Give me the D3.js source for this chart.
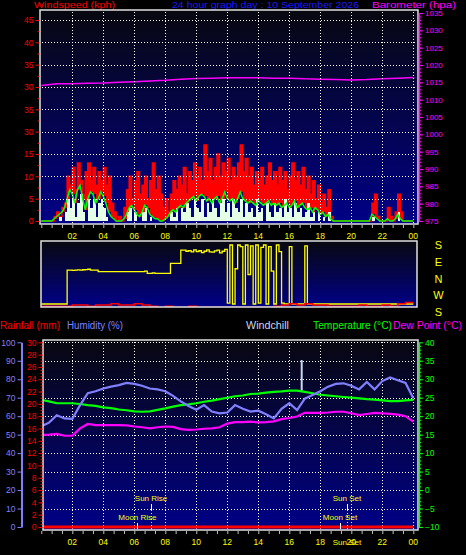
<!DOCTYPE html>
<html><head><meta charset="utf-8">
<script src="https://cdnjs.cloudflare.com/ajax/libs/d3/7.8.5/d3.min.js"></script>
<style>
html,body{margin:0;padding:0;background:#000;}
svg{display:block;}
</style></head>
<body>
<svg id="chart" width="466" height="555"></svg>
<script>
// ---------------- DATA ----------------
const hourTicks  = [2,4,6,8,10,12,14,16,18,20,22,24];
const hourLabels = ["02","04","06","08","10","12","14","16","18","20","22","00"];

const windTickValues = [0,5,10,15,20,25,30,35,40,45];
const windTickLabels = ["0","5","10","15","30","35","30","35","40","45"];
const baroTickValues = [975,980,985,990,995,1000,1005,1010,1015,1020,1025,1030,1035];

// wind, 10-minute samples (kph)
const windGust = [
 0,0,0,0,0,1,  2,1,3,4,10,8,  12,7,13,9,6,11,  13,9,12,8,11,9,
 12,8,10,4,2,0,  1,0,3,7,10,5,  9,11,6,8,10,5,  9,13,7,10,6,3,
 5,2,6,9,7,10,  8,12,6,11,9,13,  10,12,9,17,11,14,  9,12,15,10,13,11,
 14,9,12,10,13,17,  11,14,10,12,8,11,  9,12,8,10,13,9,  11,8,12,9,11,7,
 10,13,9,11,8,12,  7,10,6,9,5,8,  4,6,3,7,1,0,  0,0,0,0,0,0,
 0,0,0,0,0,0,  0,0,4,6,1,0,  0,0,3,1,0,2,  6,2,0,0,0,0];
const windSpeed = [
 0,0,0,0,0,0,  0,1,0,2,5,3,  5,1,4,6,2,0,  5,3,5,1,4,5,
 3,1,0,0,0,0,  0,0,0,2,3,0,  2,0,0,2,3,0,  1,0,0,0,0,0,
 0,0,2,1,3,0,  3,2,4,3,1,5,  3,2,5,1,4,2,  5,3,1,4,5,2,
 4,1,5,3,2,5,  1,4,2,3,1,5,  2,3,0,4,2,1,  4,2,3,1,5,2,
 3,1,4,2,3,1,  2,4,1,2,0,2,  0,1,0,2,0,0,  0,0,0,0,0,0,
 0,0,0,0,0,0,  0,0,1,0,0,0,  0,0,0,0,0,0,  2,0,0,0,0,0];
const windAvg = [
 0,0,0,0,0,0.5,  1,1.5,2,3,5,7,  6,4,7,8,5,2.5,  5,6.5,6,4,5,6.5,
 5.5,4,2,1,0.5,0,  0,0,0.5,1.5,3,3.5,  2.5,1.5,1,2,3.5,3,  1.5,1,0.5,0.5,0,0,
 0.5,1,2,2.5,2,3,  3.5,3,4,4.5,5,5.5,  4.5,5.5,6,5.5,4.5,5,  4,5,5.5,4,5,6.5,
 5,4.5,5,4,5,6.5,  5,4.5,4,4.5,4,3.5,  4.5,4,3.5,4,4.5,3.5,  4,3.5,4,3,3.5,4,
 3,3.5,4.5,3,3.5,4,  3,2.5,3,2,3,2.5,  1.5,2,1,1.5,0.5,0,  0,0,0,0,0,0,
 0,0,0,0,0,0,  0,0,1.5,1,0.5,0,  0,0,0.5,0,0,0.5,  1.5,0.5,0,0,0,0];

// barometer, hourly (hPa)
const barometer = [1014.1,1014.6,1014.6,1014.7,1014.8,1015.0,1015.2,1015.4,1015.6,1015.9,
 1016.1,1016.2,1016.3,1016.3,1016.3,1016.2,1016.2,1016.0,1015.9,1015.8,1015.7,1015.8,1016.0,1016.2,1016.4];

// wind direction, 10-minute samples (degrees)
const windDir = [
 0,0,0,0,0,0,  0,0,0,0,207,207,  205,207,208,207,209,210,  212,207,207,207,197,197,
 197,197,197,197,197,197,  197,197,197,197,197,197,  197,197,197,197,200,187,  187,190,187,187,187,187,
 187,187,248,248,248,248,  329,329,322,326,318,330,  320,325,313,322,330,318,  316,324,329,312,322,333,
 5,360,0,215,360,350,  0,360,180,355,0,360,  5,345,360,0,350,200,  0,360,320,5,0,0,
 350,0,0,0,0,0,  355,0,0,0,0,0,  0,0,0,0,0,0,  0,0,0,0,0,0,
 0,0,0,0,0,0,  0,0,0,0,0,0,  0,0,0,0,0,0,  0,0,0,0,0,0];
const dirLabels = ["S","E","N","W","S"];
// small red trace in the direction panel, 30-minute samples
const dirTrace = [1,1,1,1, 2,2,1,2,2,3,2,2,3,2, 1,0,1,0,0,1,0,0,0,0, 0,0,0,0,0,0,1,
 2,3,2,3,2,2,1, 1,1,1,2,1,1,2,1, 3,4];

// bottom panel, 30-minute samples
const temperature = [24.4,24.0,23.5,23.5,23.5,23.3,23.0,22.8,22.4,22.2,21.8,21.6,21.3,21.2,21.3,21.7,
 22.1,22.6,23.0,23.2,23.5,23.9,24.2,24.6,25.0,25.4,25.6,26.0,26.1,26.4,26.6,26.7,26.9,26.9,26.6,26.2,
 25.8,25.6,25.4,25.2,25.0,24.8,24.6,24.5,24.3,24.1,24.1,24.3,24.4];
const humidity = [54.5,56.5,60.5,58.8,58.5,66,72.5,73.5,75,76,76.8,78,77.5,76.5,75,74.5,73.5,71,68,65.5,
 63.5,66,62.5,61.5,62,66,64,62.5,63,61,58.8,64,67,63.3,69.5,71.5,73.5,76,77.5,77.8,76.5,74.5,78.5,74.5,
 79,81,79.5,78,69.7];
const dewPoint = [14.9,15.0,15.2,14.7,14.7,16.7,17.9,17.6,17.6,17.6,17.6,17.5,17.2,17.0,16.7,17.0,17.2,17.1,
 16.5,16.3,16.4,16.6,16.7,17.0,18.0,18.4,18.4,18.5,18.3,18.4,18.6,19.2,19.5,19.9,20.9,20.9,20.9,21.0,21.2,
 21.2,20.8,20.3,20.6,20.9,20.8,20.6,20.4,20.0,18.5];
const rainfall = [0,0,0,0,0,0,0,0,0,0,0,0,0,0,0,0,0,0,0,0,0,0,0,0,0];
const windchillSpikeTime = [16.8];
const windchillSpikeValue = [35.2];

const astroNames = ["Sun Rise","Moon Rise","Sun Set","Moon Set"];
const astroTimes = [7.08, 6.2, 19.72, 19.27];

// ---------------- LAYOUT ----------------
const FONT = "'Liberation Sans', Arial, sans-serif";
const P1 = {x0:40, x1:418, y0:10, y1:224};
const P2 = {x0:41, x1:417, y0:241, y1:307};
const P3 = {x0:43, x1:418, y0:340, y1:530};

const x = d3.scaleLinear().domain([0,24]).range([41.3, 413.3]);
const yWind = d3.scaleLinear().domain([0,45]).range([221, 20]);
const yBaro = d3.scaleLinear().domain([975,1035]).range([221, 13]);
const yDir  = d3.scaleLinear().domain([0,360]).range([304, 245]);
const yDirLbl = d3.scalePoint().domain(dirLabels.map((d,i)=>i)).range([245, 312]);
const yTrace = d3.scaleLinear().domain([0,4]).range([307.5, 302.5]);
const yTemp = d3.scaleLinear().domain([-10,40]).range([527, 342.3]);
const yHum  = d3.scaleLinear().domain([0,100]).range([527, 342.3]);
const yRain = d3.scaleLinear().domain([0,30]).range([527, 342.3]);

const svg = d3.select("#chart");
svg.append("rect").attr("width",466).attr("height",555).attr("fill","#000");
const defs = svg.append("defs");
const gr = defs.append("linearGradient").attr("id","bg").attr("x1",0).attr("y1",0).attr("x2",0).attr("y2",1);
gr.append("stop").attr("offset","0%").attr("stop-color","#080810");
gr.append("stop").attr("offset","100%").attr("stop-color","#000088");
[["c1",P1],["c2",P2],["c3",P3]].forEach(([id,P])=>{
  defs.append("clipPath").attr("id",id).append("rect")
    .attr("x",P.x0).attr("y",P.y0).attr("width",P.x1-P.x0).attr("height",P.y1-P.y0);
});

function panelBg(P){
  svg.append("rect").attr("x",P.x0).attr("y",P.y0).attr("width",P.x1-P.x0).attr("height",P.y1-P.y0)
    .attr("fill","url(#bg)");
}
function panelBorder(P){
  svg.append("rect").attr("x",P.x0).attr("y",P.y0).attr("width",P.x1-P.x0).attr("height",P.y1-P.y0)
    .attr("fill","none").attr("stroke","#e0e0e0").attr("stroke-width",1.5);
}
function txt(x0,y0,s,color,size,anchor,len){
  const t = svg.append("text").attr("x",x0).attr("y",y0).text(s).attr("fill",color)
    .attr("font-family",FONT).attr("font-size",size).attr("text-anchor",anchor||"start");
  if(len) t.attr("textLength",len).attr("lengthAdjust","spacingAndGlyphs");
  return t;
}
function hGrid(P, ys){
  ys.forEach(y=>{
    const yy = Math.round(y)+0.5;
    svg.append("line").attr("x1",P.x0+2).attr("x2",P.x1-1).attr("y1",yy).attr("y2",yy)
      .attr("stroke","#ffffff").attr("stroke-dasharray","1,2").attr("shape-rendering","crispEdges");
  });
}
function vGrid(P, xs){
  xs.forEach(xv=>{
    const xx = Math.round(xv)+0.5;
    svg.append("line").attr("x1",xx).attr("x2",xx).attr("y1",P.y0+2).attr("y2",P.y1-1)
      .attr("stroke","#ffffff").attr("stroke-dasharray","1,2").attr("shape-rendering","crispEdges");
  });
}
function xTicks(y0){
  const tv = d3.range(0, 24.01, 2/3);
  const g = svg.append("g").attr("transform",`translate(0,${y0})`)
    .call(d3.axisBottom(x).tickValues(tv).tickSize(3).tickFormat(""));
  g.select(".domain").remove();
  g.selectAll("line").attr("stroke","#c0c0c0");
}
function xLabels(y0){
  hourTicks.forEach((h,i)=>txt(x(h), y0, hourLabels[i], "#ffff00", 8.5, "middle"));
}
function stepPts(vals, step){
  const pts = vals.map((v,i)=>[i*step, v]);
  pts.push([24, vals[vals.length-1]]);
  return pts;
}

// ---------------- HEADERS ----------------
txt(34, 7.5, "Windspeed (kph)", "#ff0000", 9.5, "start", 81);
txt(172, 7.5, "24 hour graph day : 10 September 2026", "#1a1aff", 9.5, "start", 187);
txt(372, 7.5, "Barometer (hpa)", "#ff00ff", 9.5, "start", 84);

// ---------------- PANEL 1 : wind + barometer ----------------
panelBg(P1);
const g1 = svg.append("g").attr("clip-path","url(#c1)");
const wind = windGust.map((g,i)=>({t:i/6, g:g, s:windSpeed[i], a:windAvg[i]}));
wind.push({t:24, g:windGust[windGust.length-1], s:windSpeed[windSpeed.length-1], a:windAvg[windAvg.length-1]});
g1.append("path").datum(wind)
  .attr("d", d3.area().x(d=>x(d.t)).y0(d=>yWind(Math.min(d.a,d.g))).y1(d=>yWind(d.g)).curve(d3.curveStepAfter))
  .attr("fill","#ff0000").attr("shape-rendering","crispEdges");
g1.append("path").datum(wind)
  .attr("d", d3.line().x(d=>x(d.t)).y(d=>yWind(d.g)).curve(d3.curveStepAfter))
  .attr("fill","none").attr("stroke","#ff0000").attr("stroke-width",1.5);
g1.append("path").datum(wind)
  .attr("d", d3.area().x(d=>x(d.t)).y0(yWind(0)).y1(d=>yWind(d.s)).curve(d3.curveStepAfter))
  .attr("fill","#e4ffe4").attr("shape-rendering","crispEdges");
g1.append("path").datum(wind)
  .attr("d", d3.line().x(d=>x(d.t)).y(d=>yWind(d.a)))
  .attr("fill","none").attr("stroke","#00ff00").attr("stroke-width",1.5);
hGrid(P1, windTickValues.slice(1).map(v=>yWind(v)));
vGrid(P1, hourTicks.map(h=>x(h)));
g1.append("path").datum(barometer.map((v,i)=>[i,v]))
  .attr("d", d3.line().x(d=>x(d[0])).y(d=>yBaro(d[1])))
  .attr("fill","none").attr("stroke","#ff00ff").attr("stroke-width",1.5);
panelBorder(P1);

// left wind axis
{
  const gm = svg.append("g").attr("transform","translate(39.5,0)")
    .call(d3.axisLeft(yWind).tickValues(d3.range(2.5,45,5)).tickSize(2).tickFormat(""));
  gm.select(".domain").remove(); gm.selectAll("line").attr("stroke","#ff0000");
  const ga = svg.append("g").attr("transform","translate(39.5,0)")
    .call(d3.axisLeft(yWind).tickValues(windTickValues).tickSize(4).tickPadding(2)
      .tickFormat((d,i)=>windTickLabels[i]));
  ga.select(".domain").remove();
  ga.selectAll("line").attr("stroke","#ff0000");
  ga.selectAll("text").attr("fill","#ff0000").attr("font-family",FONT).attr("font-size",8.5);
}
// right barometer axis
{
  const gm = svg.append("g").attr("transform","translate(419,0)")
    .call(d3.axisRight(yBaro).tickValues(d3.range(976,1035,1)).tickSize(2).tickFormat(""));
  gm.select(".domain").remove(); gm.selectAll("line").attr("stroke","#ff00ff");
  const ga = svg.append("g").attr("transform","translate(419,0)")
    .call(d3.axisRight(yBaro).tickValues(baroTickValues).tickSize(4).tickPadding(2).tickSizeOuter(0)
      .tickFormat(d3.format("d")));
  ga.select(".domain").attr("stroke","#ff00ff").attr("stroke-width",1.5);
  ga.selectAll("line").attr("stroke","#ff00ff");
  ga.selectAll("text").attr("fill","#ff00ff").attr("font-family",FONT).attr("font-size",8);
}
xTicks(P1.y1+1);
xLabels(238.5);

// ---------------- PANEL 2 : wind direction ----------------
panelBg(P2);
const g2 = svg.append("g").attr("clip-path","url(#c2)");
g2.append("path").datum(stepPts(windDir, 1/6))
  .attr("d", d3.line().x(d=>x(d[0])).y(d=>yDir(d[1])).curve(d3.curveStepAfter))
  .attr("fill","none").attr("stroke","#ffff00").attr("stroke-width",1.3);
g2.append("path").datum(stepPts(dirTrace, 0.5))
  .attr("d", d3.line().x(d=>x(d[0])).y(d=>yTrace(d[1])).curve(d3.curveStepAfter))
  .attr("fill","none").attr("stroke","#ff0000").attr("stroke-width",1.5);
panelBorder(P2);
dirLabels.forEach((s,i)=>txt(438.5, yDirLbl(i)+4, s, "#ffff00", 11, "middle"));

// ---------------- HEADERS 2 ----------------
txt(0, 329, "Rainfall (mm)", "#ff0000", 10, "start", 60);
txt(67, 329, "Humidity (%)", "#8080ff", 10, "start", 56);
txt(246, 329, "Windchill", "#c8d8f0", 10, "start", 43);
txt(313, 329, "Temperature (°C)", "#00ff00", 10, "start", 79);
txt(393, 329, "Dew Point (°C)", "#ff00ff", 10, "start", 69);

// ---------------- PANEL 3 : temperature etc ----------------
panelBg(P3);
hGrid(P3, d3.range(-5,41,5).map(v=>yTemp(v)));
vGrid(P3, hourTicks.map(h=>x(h)));
const g3 = svg.append("g").attr("clip-path","url(#c3)");
g3.append("path").datum(rainfall.map((v,i)=>[i,v]))
  .attr("d", d3.line().x(d=>x(d[0])).y(d=>yRain(d[1])))
  .attr("fill","none").attr("stroke","#ff0000").attr("stroke-width",3);
// windchill (follows temperature, with a spike)
windchillSpikeTime.forEach((t,i)=>{
  const base = temperature[Math.round(t*2)];
  g3.append("line").attr("x1",x(t)).attr("x2",x(t)).attr("y1",yTemp(base)).attr("y2",yTemp(windchillSpikeValue[i]))
    .attr("stroke","#c8d8f0").attr("stroke-width",2);
});
const halfLine = (arr, yS) => d3.line().x((d,i)=>x(i/2)).y(d=>yS(d))(arr);
g3.append("path").attr("d", halfLine(temperature, yTemp)).attr("fill","none").attr("stroke","#00ff00").attr("stroke-width",2.2);
g3.append("path").attr("d", halfLine(dewPoint, yTemp)).attr("fill","none").attr("stroke","#ff00ff").attr("stroke-width",2.2);
g3.append("path").attr("d", halfLine(humidity, yHum)).attr("fill","none").attr("stroke","#8080ff").attr("stroke-width",2.2);

// sun / moon markers
astroNames.forEach((n,i)=>{
  const isSun = n.startsWith("Sun");
  const xx = Math.round(x(astroTimes[i]))+0.5;
  if(isSun){
    svg.append("line").attr("x1",xx).attr("x2",xx).attr("y1",504).attr("y2",510).attr("stroke","#ffffff");
    svg.append("line").attr("x1",xx).attr("x2",xx).attr("y1",510).attr("y2",529)
      .attr("stroke","#ffff00").attr("stroke-dasharray","1,2");
    txt(x(astroTimes[i]), 500.5, n, "#ffff00", 8, "middle");
  } else {
    svg.append("line").attr("x1",xx).attr("x2",xx).attr("y1",523).attr("y2",529).attr("stroke","#ffffff");
    txt(x(astroTimes[i]), 519.5, n, "#ffff00", 8, "middle");
  }
});
panelBorder(P3);

// humidity axis
{
  const ga = svg.append("g").attr("transform","translate(21.5,0)")
    .call(d3.axisLeft(yHum).tickValues(d3.range(0,101,10)).tickSize(4).tickPadding(2).tickSizeOuter(0));
  ga.select(".domain").attr("stroke","#8080ff").attr("stroke-width",2);
  ga.selectAll("line").attr("stroke","#8080ff");
  ga.selectAll("text").attr("fill","#8080ff").attr("font-family",FONT).attr("font-size",8.5);
}
// rain axis
{
  const gm = svg.append("g").attr("transform","translate(42.5,0)")
    .call(d3.axisLeft(yRain).tickValues(d3.range(0,30.01,0.5)).tickSize(2).tickFormat(""));
  gm.select(".domain").remove(); gm.selectAll("line").attr("stroke","#ff0000");
  const ga = svg.append("g").attr("transform","translate(42.5,0)")
    .call(d3.axisLeft(yRain).tickValues(d3.range(0,31,2)).tickSize(4).tickPadding(2));
  ga.select(".domain").remove();
  ga.selectAll("line").attr("stroke","#ff0000");
  ga.selectAll("text").attr("fill","#ff0000").attr("font-family",FONT).attr("font-size",8.5);
}
// temperature axis
{
  const gm = svg.append("g").attr("transform","translate(419,0)")
    .call(d3.axisRight(yTemp).tickValues(d3.range(-9,40,1)).tickSize(2).tickFormat(""));
  gm.select(".domain").remove(); gm.selectAll("line").attr("stroke","#00ff00");
  const ga = svg.append("g").attr("transform","translate(419,0)")
    .call(d3.axisRight(yTemp).tickValues(d3.range(-10,41,5)).tickSize(4).tickPadding(2).tickSizeOuter(0));
  ga.select(".domain").attr("stroke","#00ff00").attr("stroke-width",1.5);
  ga.selectAll("line").attr("stroke","#00ff00");
  ga.selectAll("text").attr("fill","#00ff00").attr("font-family",FONT).attr("font-size",8.5);
}
xTicks(P3.y1+1);
txt(x(astroTimes[2]), 545, "Sun Set", "#ffff00", 8, "middle");
xLabels(545);
</script>
</body></html>
